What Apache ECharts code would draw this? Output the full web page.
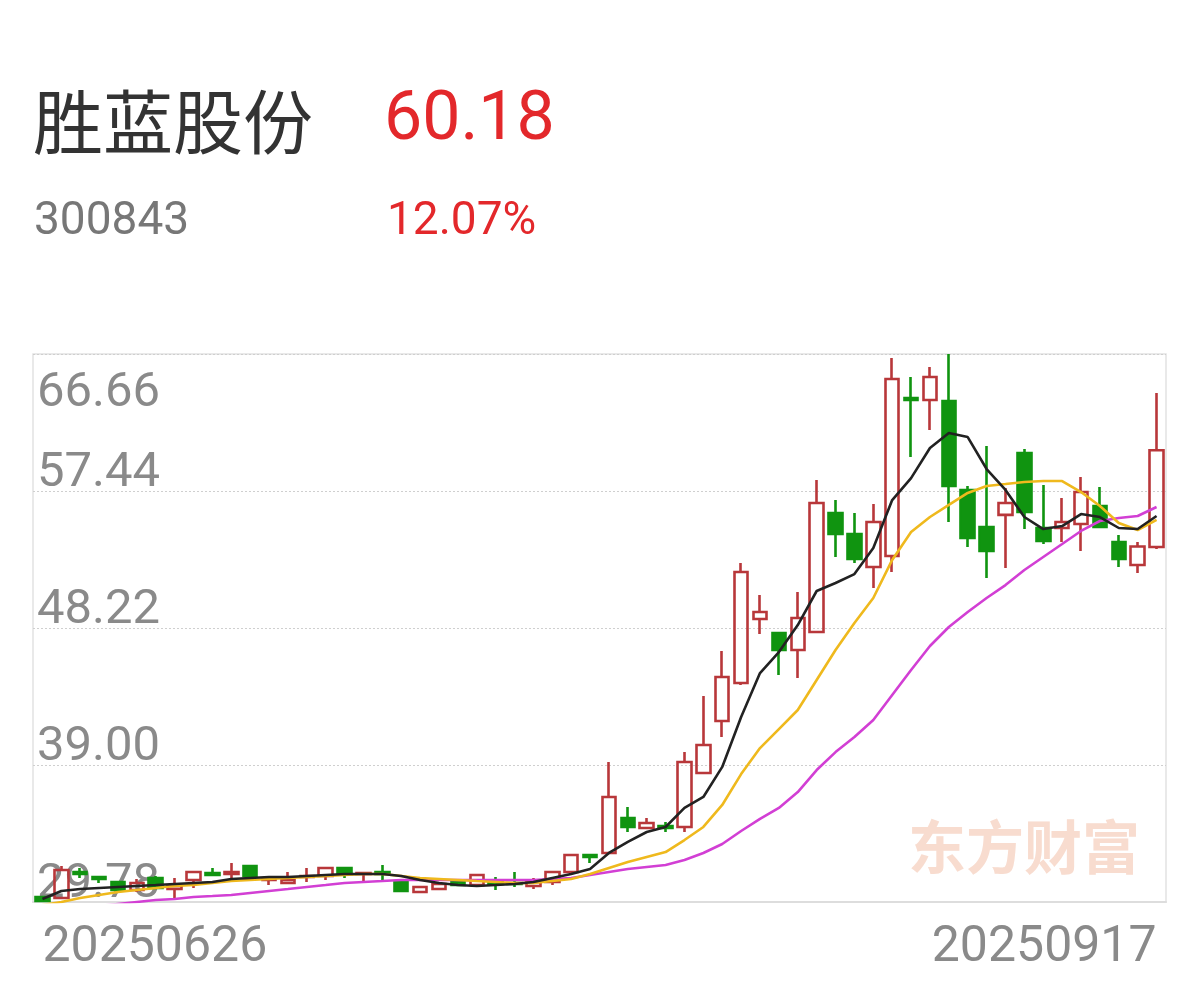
<!DOCTYPE html>
<html>
<head>
<meta charset="utf-8">
<script src="https://cdn.jsdelivr.net/npm/echarts@6/dist/echarts.min.js"></script>
<style>
html,body{margin:0;padding:0;background:#fff;}
#chart{width:1200px;height:986px;}
</style>
</head>
<body>
<div id="chart"></div>
<script>
const stockName = '胜蓝股份';
const stockCode = '300843';
const lastPrice = '60.18';
const changePct = '12.07%';
const watermark = '东方财富';

const dates = ['20250626','20250627','20250630',
 '20250701','20250702','20250703','20250704','20250707','20250708','20250709','20250710','20250711',
 '20250714','20250715','20250716','20250717','20250718','20250721','20250722','20250723','20250724','20250725',
 '20250728','20250729','20250730','20250731','20250801','20250804','20250805','20250806','20250807','20250808',
 '20250811','20250812','20250813','20250814','20250815','20250818','20250819','20250820','20250821','20250822',
 '20250825','20250826','20250827','20250828','20250829','20250901','20250902','20250903','20250904','20250905',
 '20250908','20250909','20250910','20250911','20250912','20250915','20250916','20250917'];

const openP = [30.12, 30.05, 31.80, 31.46, 31.13, 30.59, 31.40, 30.65, 31.26, 31.73,
 31.66, 32.20, 31.26, 31.06, 31.46, 31.53, 32.07, 31.66, 31.80, 31.13,
 30.45, 30.65, 31.13, 30.92, 31.13, 31.06, 30.86, 31.13, 31.80, 32.94,
 33.08, 35.43, 34.76, 34.89, 34.83, 38.46, 41.96, 44.52, 48.83, 47.88,
 46.74, 47.95, 55.96, 54.55, 52.33, 53.07, 63.70, 63.56, 63.50, 57.51,
 55.02, 55.83, 60.00, 54.95, 54.95, 55.22, 56.43, 54.01, 52.46, 53.67];

const closeP = [29.85, 31.93, 31.66, 31.33, 30.59, 31.06, 30.72, 30.86, 31.80, 31.60,
 31.80, 31.53, 31.33, 31.26, 31.53, 32.07, 31.66, 31.73, 31.66, 30.52,
 30.79, 30.99, 30.92, 31.60, 30.99, 30.99, 31.13, 31.80, 32.94, 32.81,
 36.85, 34.83, 35.10, 34.76, 39.20, 40.35, 44.92, 51.99, 49.30, 46.74,
 48.89, 56.63, 54.55, 52.86, 55.35, 64.98, 63.56, 65.11, 57.78, 54.28,
 53.40, 56.63, 56.03, 54.08, 55.35, 57.37, 55.02, 52.86, 53.70, 60.18];

const lowP = [29.78, 29.98, 31.40, 31.06, 30.45, 30.45, 30.65, 30.05, 30.72, 31.53,
 31.40, 31.26, 30.92, 30.99, 31.13, 31.26, 31.40, 31.19, 31.26, 30.45,
 30.39, 30.59, 30.86, 30.79, 30.59, 30.79, 30.65, 30.92, 31.60, 32.40,
 33.01, 34.49, 34.69, 34.49, 34.49, 38.39, 40.88, 44.38, 47.82, 45.06,
 44.86, 47.88, 53.00, 52.59, 50.91, 51.99, 59.73, 61.55, 55.35, 53.67,
 51.59, 52.26, 54.88, 53.87, 54.01, 53.40, 55.02, 52.33, 51.92, 53.54];

const highP = [30.18, 32.20, 32.07, 31.46, 31.19, 31.33, 31.53, 31.40, 31.87, 32.07,
 32.40, 32.27, 31.46, 31.80, 32.07, 32.14, 32.14, 31.80, 32.27, 31.19,
 30.86, 31.06, 31.19, 31.66, 31.46, 31.80, 31.40, 31.87, 33.01, 32.94,
 39.20, 36.17, 35.43, 35.16, 39.87, 43.64, 46.67, 52.59, 50.44, 47.88,
 50.64, 58.18, 56.83, 55.96, 56.57, 66.39, 65.11, 65.79, 66.66, 57.78,
 60.47, 57.64, 60.27, 57.84, 56.97, 58.38, 57.71, 54.48, 54.01, 64.04];

const ma5 = [29.98, 30.52, 30.65, 30.72, 30.79, 30.86, 30.92, 30.99, 31.06, 31.13,
 31.33, 31.40, 31.46, 31.46, 31.53, 31.60, 31.66, 31.66, 31.66, 31.53,
 31.26, 31.06, 30.92, 30.86, 30.92, 30.99, 31.13, 31.40, 31.66, 32.00,
 33.08, 33.82, 34.49, 34.83, 36.11, 36.85, 38.87, 42.23, 45.19, 46.60,
 48.42, 50.71, 51.25, 51.85, 53.60, 56.83, 58.31, 60.33, 61.34, 61.07,
 58.92, 57.51, 55.69, 54.88, 55.08, 55.89, 55.69, 54.95, 54.88, 55.76];

const ma10 = [29.58, 29.78, 30.05, 30.25, 30.45, 30.59, 30.72, 30.86, 30.92, 31.06,
 31.19, 31.26, 31.33, 31.40, 31.46, 31.53, 31.60, 31.66, 31.66, 31.53,
 31.40, 31.33, 31.26, 31.19, 31.13, 31.06, 31.06, 31.19, 31.33, 31.66,
 32.07, 32.47, 32.81, 33.14, 33.95, 34.83, 36.31, 38.39, 40.14, 41.42,
 42.70, 44.72, 46.74, 48.56, 50.24, 52.80, 54.68, 55.69, 56.50, 57.31,
 57.78, 57.91, 58.05, 58.11, 58.11, 57.37, 56.43, 55.29, 54.81, 55.49];

const ma20 = [29.24, 29.31, 29.38, 29.51, 29.65, 29.78, 29.91, 29.98, 30.12, 30.18,
 30.25, 30.39, 30.52, 30.65, 30.79, 30.92, 31.06, 31.13, 31.19, 31.26,
 31.26, 31.26, 31.26, 31.26, 31.26, 31.26, 31.26, 31.33, 31.40, 31.60,
 31.80, 32.00, 32.14, 32.27, 32.61, 33.08, 33.68, 34.56, 35.37, 36.11,
 37.18, 38.66, 39.87, 40.88, 42.03, 43.71, 45.39, 47.01, 48.29, 49.30,
 50.24, 51.11, 52.12, 53.00, 53.87, 54.75, 55.42, 55.62, 55.76, 56.36];

const yMin = 29.78, yMax = 66.66, yStep = 9.22;

const RED = '#b8373a', GREEN = '#109410';
const FONT = 'Roboto';

const kData = dates.map((d, i) => [openP[i], closeP[i], lowP[i], highP[i]]);

const chart = echarts.init(document.getElementById('chart'), null, {renderer: 'canvas'});

const isMax = v => Math.abs(v - yMax) < 0.005;

const option = {
  backgroundColor: '#ffffff',
  animation: false,
  title: [
    {text: stockName, left: 33, top: 84, padding: 0,
     textStyle: {fontSize: 70, fontWeight: 'normal', color: '#333333', fontFamily: 'Noto Sans CJK SC', lineHeight: 76}},
    {text: lastPrice, left: 384, top: 86, padding: 0,
     textStyle: {fontSize: 68, fontWeight: 'normal', color: '#e3282b', fontFamily: FONT, lineHeight: 72}},
    {text: stockCode, left: 34, top: 199, padding: 0,
     textStyle: {fontSize: 46, fontWeight: 'normal', color: '#777777', fontFamily: FONT, lineHeight: 46}},
    {text: changePct, left: 387, top: 199, padding: 0,
     textStyle: {fontSize: 46, fontWeight: 'normal', color: '#e3282b', fontFamily: FONT, lineHeight: 46}}
  ],
  graphic: [
    {type: 'text', left: 908, top: 818, z: 0, silent: true,
     style: {text: watermark, font: 'bold 58px "Noto Sans CJK SC"', fill: '#f8dccf'}}
  ],
  grid: {left: 33, right: 34, top: 354, bottom: 84, show: true,
         borderColor: '#e2e2e2', borderWidth: 1.5, backgroundColor: 'transparent'},
  xAxis: {
    type: 'category', data: dates, boundaryGap: true,
    axisLine: {show: true, lineStyle: {color: '#dddddd', width: 2}},
    axisTick: {show: false},
    splitLine: {show: false},
    axisLabel: {
      interval: (idx) => idx === 0 || idx === dates.length - 1,
      fontSize: 50, color: '#8a8a8a', fontFamily: FONT, margin: 21, lineHeight: 50,
      alignMinLabel: 'left', alignMaxLabel: 'right'
    }
  },
  yAxis: [
    {
      type: 'value', min: yMin, max: yMax, interval: yStep, position: 'left',
      axisLine: {show: false}, axisTick: {show: false},
      splitLine: {show: true, lineStyle: {color: '#cfcfcf', type: [2, 2], width: 1}},
      axisLabel: {
        inside: true, margin: 4, verticalAlign: 'bottom', lineHeight: 35,
        fontSize: 49, color: '#8a8a8a', fontFamily: FONT,
        formatter: v => isMax(v) ? '' : v.toFixed(2)
      }
    },
    {
      type: 'value', min: yMin, max: yMax, interval: yStep, position: 'left',
      axisLine: {show: false}, axisTick: {show: false}, splitLine: {show: false},
      axisLabel: {
        inside: true, margin: 4, verticalAlign: 'top', lineHeight: 42, padding: [19, 0, 0, 0],
        fontSize: 49, color: '#8a8a8a', fontFamily: FONT,
        formatter: v => isMax(v) ? v.toFixed(2) : ''
      }
    }
  ],
  series: [
    {
      type: 'candlestick', data: kData, barWidth: 14, z: 2,
      itemStyle: {color: 'rgba(255,255,255,0)', color0: GREEN, borderColor: RED, borderColor0: GREEN, borderWidth: 2.6}
    },
    {type: 'line', data: ma20, symbol: 'none', smooth: false, clip: true, z: 3,
     lineStyle: {color: '#d23fd4', width: 2.6}},
    {type: 'line', data: ma10, symbol: 'none', smooth: false, clip: true, z: 3,
     lineStyle: {color: '#efb91d', width: 2.6}},
    {type: 'line', data: ma5, symbol: 'none', smooth: false, clip: true, z: 3,
     lineStyle: {color: '#222222', width: 2.6}}
  ]
};

chart.setOption(option);
</script>
</body>
</html>
